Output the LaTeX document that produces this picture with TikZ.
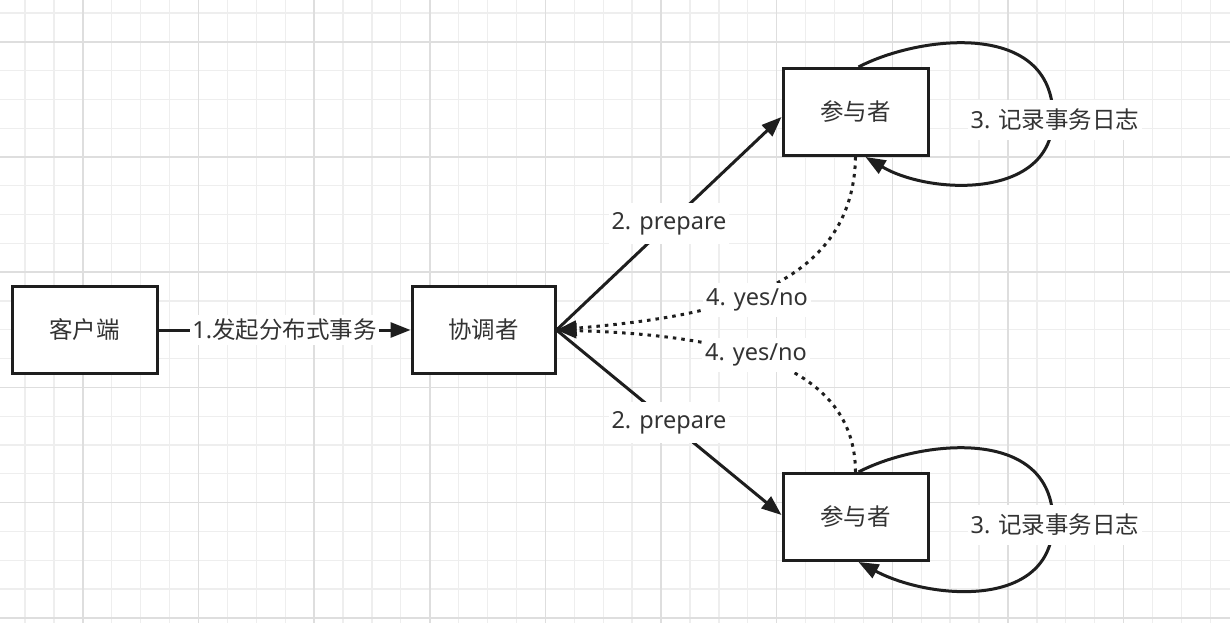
\documentclass[tikz,border=0pt]{standalone}
\usepackage{fontspec}
\setmainfont{Noto Sans}
\newfontfamily\cjk{Noto Sans CJK SC}
\usetikzlibrary{arrows.meta}
\definecolor{gridminor}{HTML}{EEEEEE}
\definecolor{gridmajor}{HTML}{DEDEDE}
\definecolor{ink}{HTML}{1E1E1E}
\definecolor{txt}{HTML}{333333}
\begin{document}
\begin{tikzpicture}[x=1pt,y=-1pt,
  box/.style={draw=ink, line width=3pt, fill=white, minimum width=145pt,
    minimum height=87pt, inner sep=0pt, text=txt,
    font=\fontsize{23.5}{28}\selectfont\cjk},
  lbl/.style={fill=white, text=txt, font=\fontsize{23.5}{28}\selectfont,
    inner xsep=3pt, inner ysep=9pt},
  conn/.style={draw=ink, line width=3pt, -{Triangle[length=20pt,width=15pt]}},
  dotline/.style={conn, dash pattern=on 3.5pt off 5pt},
]
\useasboundingbox (0,0) rectangle (1230,623);
\fill[white] (0,0) rectangle (1230,623);
% grid
\foreach \i in {0,...,41} \draw[gridminor, line width=1.3pt] ({25+28.91*\i},0) -- ({25+28.91*\i},623);
\foreach \j in {0,...,21} \draw[gridminor, line width=1.3pt] (0,{13+28.8*\j}) -- (1230,{13+28.8*\j});
\foreach \i in {2,6,...,38} \draw[gridmajor, line width=1.6pt] ({25+28.91*\i},0) -- ({25+28.91*\i},623);
\foreach \j in {1,5,...,21} \draw[gridmajor, line width=1.6pt] (0,{13+28.8*\j}) -- (1230,{13+28.8*\j});

% nodes
\node[box] (cl) at (84.5,330) {客户端};
\node[box, minimum width=143pt] (co) at (483.5,330) {协调者};
\node[box] (p1) at (855.5,112) {参与者};
\node[box] (p2) at (855.5,517) {参与者};

% client -> coordinator
\draw[conn] (cl) -- node[lbl, inner ysep=4pt, inner xsep=2pt] {1.{\cjk 发起分布式事务}} (co);

% prepare arrows
\draw[conn] (co.east) -- node[lbl] (pr1) {2. prepare} ([yshift=-5pt]p1.west);
\draw[conn] (co.east) -- node[lbl] (pr2) {2. prepare} ([yshift=2pt]p2.west);

% yes/no dotted
\draw[dotline] (p1.south) .. controls (853,300) and (690,318) .. (co.east);
\draw[dotline] (p2.north) .. controls (855,360) and (720,335) .. (co.east);
\node[lbl, inner ysep=6pt] (yn1) at (757,300) {4. yes/no};
\node[lbl, inner ysep=6pt] (yn2) at (756,355) {4. yes/no};

% self loops
\draw[conn] ([xshift=3pt]p1.north) .. controls (920,35) and (1053,20) .. (1053,117)
  .. controls (1053,200) and (930,195) .. ([xshift=10pt]p1.south);
\draw[conn] ([xshift=3pt]p2.north) .. controls (920,440) and (1053,425) .. (1053,522)
  .. controls (1053,610) and (930,600) .. ([xshift=3pt]p2.south);
\node[lbl] (lg1) at (1055,120) {3. {\cjk 记录事务日志}};
\node[lbl] (lg2) at (1055,525) {3. {\cjk 记录事务日志}};
\end{tikzpicture}
\end{document}
